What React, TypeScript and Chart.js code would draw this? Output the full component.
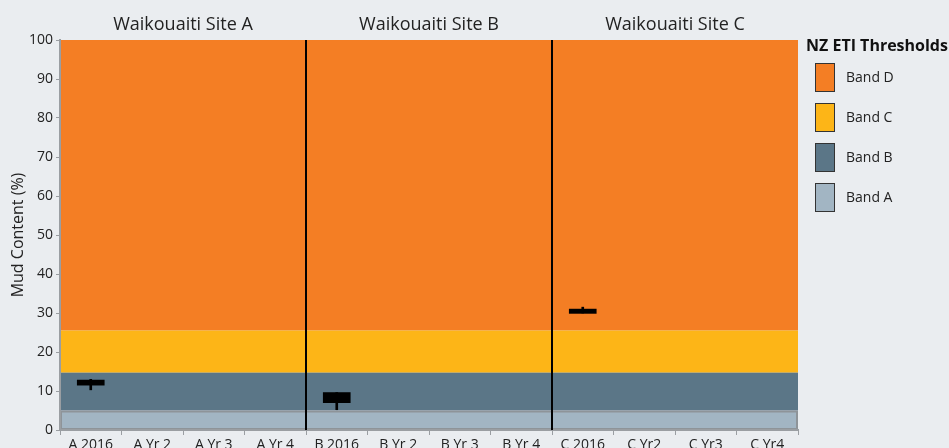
import React, { useEffect, useRef } from "react";
import { Chart, registerables } from "chart.js";

Chart.register(...registerables);

const categories = [
  "A 2016", "A Yr 2", "A Yr 3", "A Yr 4",
  "B 2016", "B Yr 2", "B Yr 3", "B Yr 4",
  "C 2016", "C Yr2", "C Yr3", "C Yr4",
];
const groupTitles = ["Waikouaiti Site A", "Waikouaiti Site B", "Waikouaiti Site C"];
const groupSize = 4;

const boxLow: (number | null)[] = [11.5, null, null, null, 7.0, null, null, null, 29.9, null, null, null];
const boxHigh: (number | null)[] = [12.8, null, null, null, 9.6, null, null, null, 31.0, null, null, null];
const whiskerLow: (number | null)[] = [10.3, null, null, null, 5.2, null, null, null, 30.0, null, null, null];
const whiskerHigh: (number | null)[] = [13.0, null, null, null, 9.6, null, null, null, 31.5, null, null, null];

const bandNames = ["Band D", "Band C", "Band B", "Band A"];
const bandLow = [25.5, 14.7, 5, 0];
const bandHigh = [100, 25.5, 14.7, 5];
const bandColors = ["#F47E24", "#FDB517", "#5B7687", "#A2B5C3"];

const yTicksMin = 0;
const yTicksMax = 100;
const yTickStep = 10;

const FONT = "'Open Sans', 'Noto Sans', sans-serif";
const BG = "#EAEDF0";

const pairs = (lo: (number | null)[], hi: (number | null)[]) =>
  lo.map((v, i) => (v == null || hi[i] == null ? null : [v, hi[i] as number]));

const decorPlugin = {
  id: "decor",
  beforeDraw(chart: any) {
    const { ctx, chartArea, scales } = chart;
    const y = scales.y;
    ctx.save();
    ctx.fillStyle = BG;
    ctx.fillRect(0, 0, chart.width, chart.height);
    for (let i = 0; i < bandNames.length; i++) {
      const top = y.getPixelForValue(bandHigh[i]);
      const bot = y.getPixelForValue(bandLow[i]);
      ctx.fillStyle = bandColors[i];
      ctx.fillRect(chartArea.left, top, chartArea.right - chartArea.left, bot - top);
    }
    // Band A outline
    const aTop = y.getPixelForValue(bandHigh[3]);
    const aBot = y.getPixelForValue(bandLow[3]);
    ctx.strokeStyle = "#8E9499";
    ctx.lineWidth = 2;
    ctx.strokeRect(chartArea.left + 1, aTop + 1, chartArea.right - chartArea.left - 2, aBot - aTop - 2);
    ctx.restore();
  },
  afterDatasetsDraw(chart: any) {
    const { ctx, chartArea, scales } = chart;
    const x = scales.x;
    ctx.save();
    // dividers
    const bounds: number[] = [chartArea.left];
    for (let g = 1; g < groupTitles.length; g++) {
      const idx = g * groupSize;
      const px = (x.getPixelForValue(idx - 1) + x.getPixelForValue(idx)) / 2;
      bounds.push(px);
      ctx.strokeStyle = "#000";
      ctx.lineWidth = 2;
      ctx.beginPath();
      ctx.moveTo(px, chartArea.top);
      ctx.lineTo(px, chartArea.bottom);
      ctx.stroke();
    }
    bounds.push(chartArea.right);
    // group titles
    ctx.fillStyle = "#222";
    ctx.font = `18px ${FONT}`;
    ctx.textAlign = "center";
    ctx.textBaseline = "middle";
    for (let g = 0; g < groupTitles.length; g++) {
      ctx.fillText(groupTitles[g], (bounds[g] + bounds[g + 1]) / 2, 25);
    }
    // legend
    ctx.textAlign = "left";
    ctx.font = `bold 16px ${FONT}`;
    ctx.fillStyle = "#111";
    ctx.fillText("NZ ETI Thresholds", 806, 46);
    ctx.font = `14px ${FONT}`;
    for (let i = 0; i < bandNames.length; i++) {
      const top = 63 + i * 40;
      ctx.fillStyle = bandColors[i];
      ctx.fillRect(815, top, 20, 29);
      ctx.strokeStyle = "#333";
      ctx.lineWidth = 1;
      ctx.strokeRect(815.5, top + 0.5, 19, 28);
      ctx.fillStyle = "#222";
      ctx.fillText(bandNames[i], 846, top + 15);
    }
    ctx.restore();
  },
};

export default function App() {
  const ref = useRef<HTMLCanvasElement>(null);
  useEffect(() => {
    document.body.style.background = BG;
    Chart.defaults.font.family = FONT;
    const chart = new Chart(ref.current as HTMLCanvasElement, {
      type: "bar",
      data: {
        labels: categories,
        datasets: [
          {
            label: "Whisker",
            data: pairs(whiskerLow, whiskerHigh) as any,
            backgroundColor: "#000",
            barThickness: 2,
            grouped: false,
          } as any,
          {
            label: "Box",
            data: pairs(boxLow, boxHigh) as any,
            backgroundColor: "#000",
            barThickness: 27,
            grouped: false,
          } as any,
        ],
      },
      options: {
        animation: false,
        responsive: true,
        maintainAspectRatio: false,
        layout: { padding: { top: 40, right: 151, left: 0, bottom: 0 } },
        plugins: { legend: { display: false }, tooltip: { enabled: false } },
        scales: {
          x: {
            grid: { display: true, drawOnChartArea: false, drawTicks: true, tickLength: 5, color: "#9A9EA2", offset: true },
            border: { display: true, color: "#9A9EA2", width: 2 },
            ticks: { color: "#222", font: { size: 14, family: FONT }, padding: 2, maxRotation: 0, autoSkip: false },
            afterFit: (s: any) => { s.height = 18; },
          },
          y: {
            min: yTicksMin,
            max: yTicksMax,
            grid: { display: true, drawOnChartArea: false, drawTicks: true, tickLength: 4, color: "#9A9EA2" },
            border: { display: true, color: "#9A9EA2", width: 2 },
            ticks: { stepSize: yTickStep, color: "#222", font: { size: 14, family: FONT }, padding: 3 },
            title: { display: true, text: "Mud Content (%)", color: "#222", font: { size: 16, family: FONT }, padding: { top: 9, bottom: 0 } },
            afterFit: (s: any) => { s.width = 60; },
          },
        },
      },
      plugins: [decorPlugin],
    });
    return () => chart.destroy();
  }, []);
  return (
    <div style={{ position: "fixed", left: 0, top: 0, width: 949, height: 448 }}>
      <canvas ref={ref} />
    </div>
  );
}
